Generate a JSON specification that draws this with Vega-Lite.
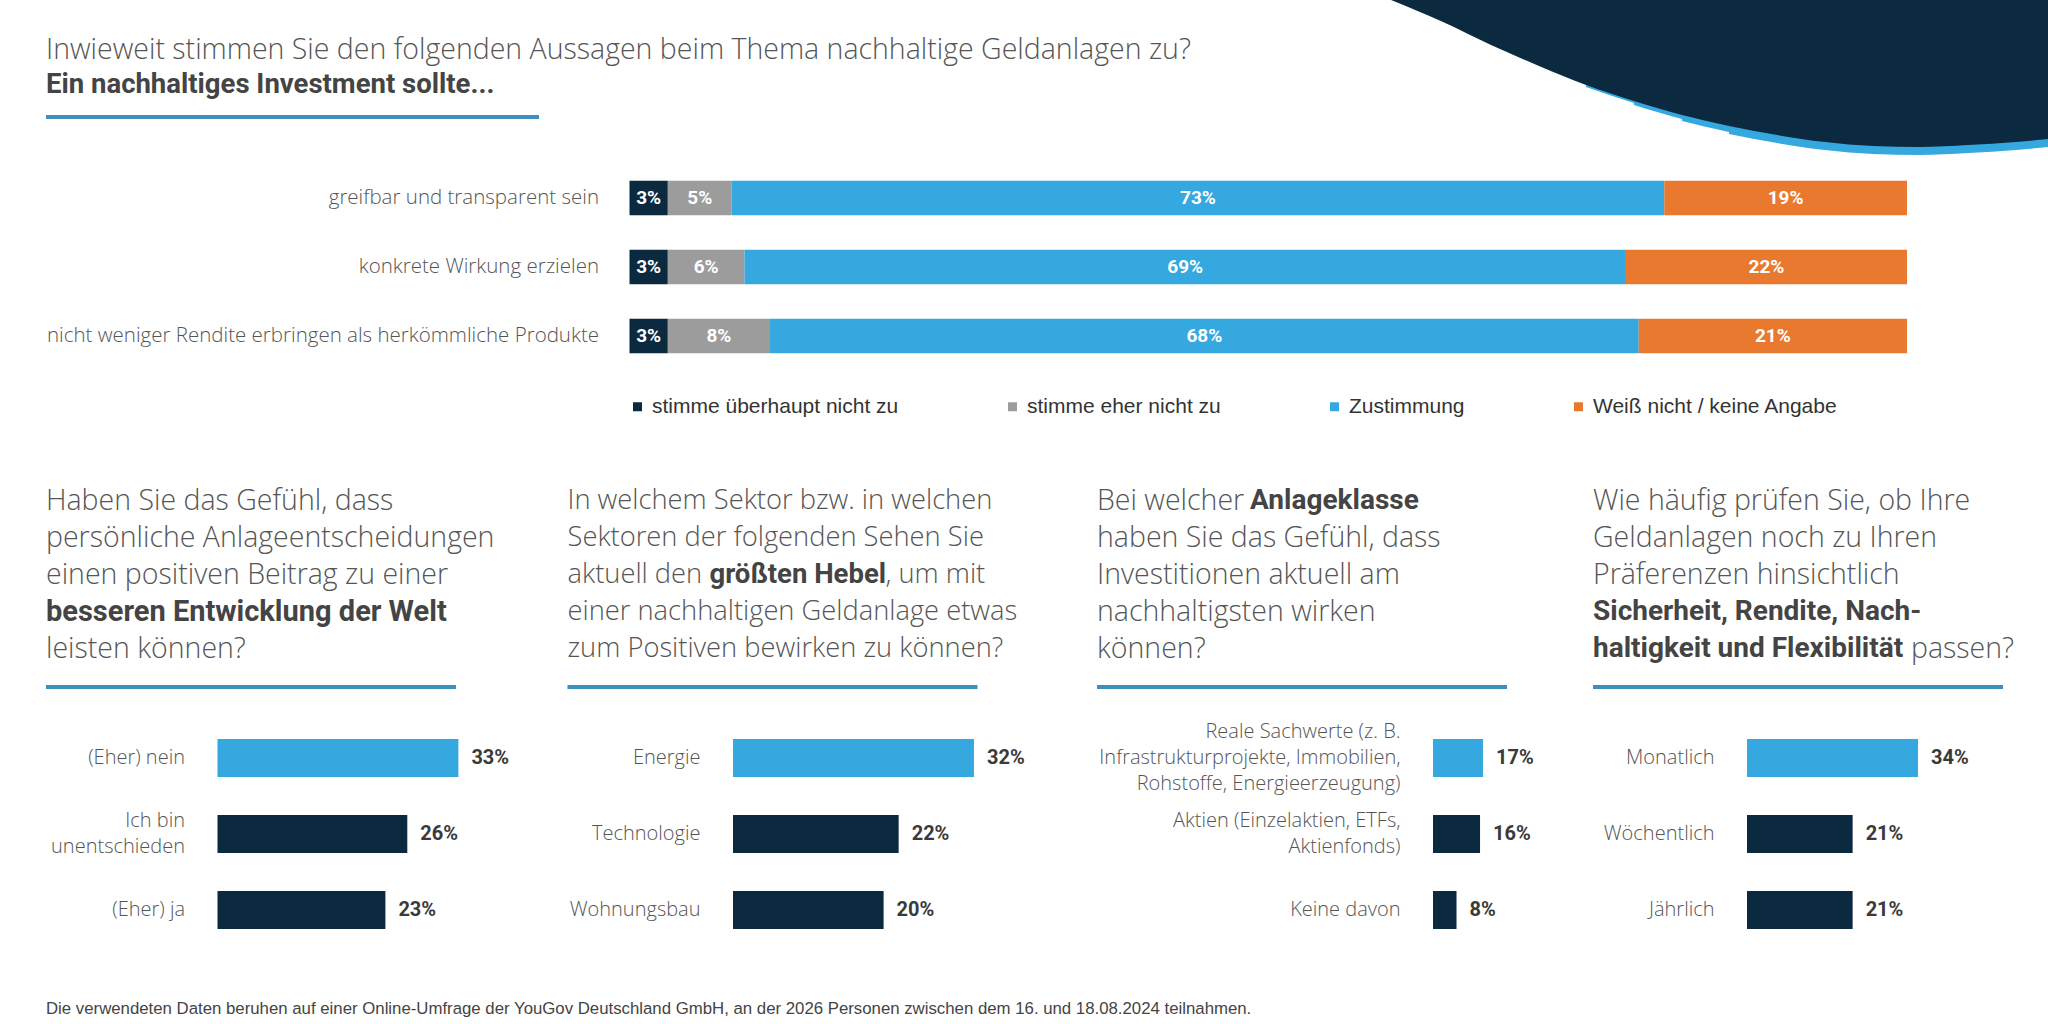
{
  "$schema": "https://vega.github.io/schema/vega-lite/v6.json",
  "width": 2048,
  "height": 1024,
  "autosize": "none",
  "padding": 0,
  "background": "white",
  "config": {"view": {"stroke": null}, "axis": {"grid": false}},
  "datasets": {
    "swoosh": [
      {"sx": 1391, "sy": 0}, {"sx": 1443, "sy": 22}, {"sx": 1491, "sy": 45}, {"sx": 1539, "sy": 66},
      {"sx": 1586, "sy": 85}, {"sx": 1634, "sy": 101}, {"sx": 1682, "sy": 115}, {"sx": 1729, "sy": 126},
      {"sx": 1777, "sy": 135}, {"sx": 1825, "sy": 142}, {"sx": 1873, "sy": 146}, {"sx": 1920, "sy": 147},
      {"sx": 1968, "sy": 145}, {"sx": 2016, "sy": 142}, {"sx": 2048, "sy": 139}
    ],
    "title": [
      {"line": 1, "text": "Inwieweit stimmen Sie den folgenden Aussagen beim Thema nachhaltige Geldanlagen zu?", "bold": false},
      {"line": 2, "text": "Ein nachhaltiges Investment sollte...", "bold": true}
    ],
    "top": [
      {"item": "greifbar und transparent sein", "cat": "stimme überhaupt nicht zu", "rank": 1, "share": 0.03},
      {"item": "greifbar und transparent sein", "cat": "stimme eher nicht zu", "rank": 2, "share": 0.05},
      {"item": "greifbar und transparent sein", "cat": "Zustimmung", "rank": 3, "share": 0.73},
      {"item": "greifbar und transparent sein", "cat": "Weiß nicht / keine Angabe", "rank": 4, "share": 0.19},
      {"item": "konkrete Wirkung erzielen", "cat": "stimme überhaupt nicht zu", "rank": 1, "share": 0.03},
      {"item": "konkrete Wirkung erzielen", "cat": "stimme eher nicht zu", "rank": 2, "share": 0.06},
      {"item": "konkrete Wirkung erzielen", "cat": "Zustimmung", "rank": 3, "share": 0.69},
      {"item": "konkrete Wirkung erzielen", "cat": "Weiß nicht / keine Angabe", "rank": 4, "share": 0.22},
      {"item": "nicht weniger Rendite erbringen als herkömmliche Produkte", "cat": "stimme überhaupt nicht zu", "rank": 1, "share": 0.03},
      {"item": "nicht weniger Rendite erbringen als herkömmliche Produkte", "cat": "stimme eher nicht zu", "rank": 2, "share": 0.08},
      {"item": "nicht weniger Rendite erbringen als herkömmliche Produkte", "cat": "Zustimmung", "rank": 3, "share": 0.68},
      {"item": "nicht weniger Rendite erbringen als herkömmliche Produkte", "cat": "Weiß nicht / keine Angabe", "rank": 4, "share": 0.21}
    ],
    "headers": [
      {"panel": 1, "line": 1, "seg": 1, "bold": false, "text": "Haben Sie das Gefühl, dass"},
      {"panel": 1, "line": 2, "seg": 1, "bold": false, "text": "persönliche Anlageentscheidungen"},
      {"panel": 1, "line": 3, "seg": 1, "bold": false, "text": "einen positiven Beitrag zu einer"},
      {"panel": 1, "line": 4, "seg": 1, "bold": true, "text": "besseren Entwicklung der Welt"},
      {"panel": 1, "line": 5, "seg": 1, "bold": false, "text": "leisten können?"},
      {"panel": 2, "line": 1, "seg": 1, "bold": false, "text": "In welchem Sektor bzw. in welchen"},
      {"panel": 2, "line": 2, "seg": 1, "bold": false, "text": "Sektoren der folgenden Sehen Sie"},
      {"panel": 2, "line": 3, "seg": 1, "bold": false, "text": "aktuell den"},
      {"panel": 2, "line": 3, "seg": 2, "bold": true, "text": "größten Hebel"},
      {"panel": 2, "line": 3, "seg": 3, "bold": false, "text": ", um mit"},
      {"panel": 2, "line": 4, "seg": 1, "bold": false, "text": "einer nachhaltigen Geldanlage etwas"},
      {"panel": 2, "line": 5, "seg": 1, "bold": false, "text": "zum Positiven bewirken zu können?"},
      {"panel": 3, "line": 1, "seg": 1, "bold": false, "text": "Bei welcher"},
      {"panel": 3, "line": 1, "seg": 2, "bold": true, "text": "Anlageklasse"},
      {"panel": 3, "line": 2, "seg": 1, "bold": false, "text": "haben Sie das Gefühl, dass"},
      {"panel": 3, "line": 3, "seg": 1, "bold": false, "text": "Investitionen aktuell am"},
      {"panel": 3, "line": 4, "seg": 1, "bold": false, "text": "nachhaltigsten wirken"},
      {"panel": 3, "line": 5, "seg": 1, "bold": false, "text": "können?"},
      {"panel": 4, "line": 1, "seg": 1, "bold": false, "text": "Wie häufig prüfen Sie, ob Ihre"},
      {"panel": 4, "line": 2, "seg": 1, "bold": false, "text": "Geldanlagen noch zu Ihren"},
      {"panel": 4, "line": 3, "seg": 1, "bold": false, "text": "Präferenzen hinsichtlich"},
      {"panel": 4, "line": 4, "seg": 1, "bold": true, "text": "Sicherheit, Rendite, Nach-"},
      {"panel": 4, "line": 5, "seg": 1, "bold": true, "text": "haltigkeit und Flexibilität"},
      {"panel": 4, "line": 5, "seg": 2, "bold": false, "text": "passen?"}
    ],
    "panels": [
      {"panel": 1, "cat": "(Eher) nein", "share": 0.33},
      {"panel": 1, "cat": "Ich bin unentschieden", "share": 0.26},
      {"panel": 1, "cat": "(Eher) ja", "share": 0.23},
      {"panel": 2, "cat": "Energie", "share": 0.32},
      {"panel": 2, "cat": "Technologie", "share": 0.22},
      {"panel": 2, "cat": "Wohnungsbau", "share": 0.20},
      {"panel": 3, "cat": "Reale Sachwerte (z. B. Infrastrukturprojekte, Immobilien, Rohstoffe, Energieerzeugung)", "share": 0.17},
      {"panel": 3, "cat": "Aktien (Einzelaktien, ETFs, Aktienfonds)", "share": 0.16},
      {"panel": 3, "cat": "Keine davon", "share": 0.08},
      {"panel": 4, "cat": "Monatlich", "share": 0.34},
      {"panel": 4, "cat": "Wöchentlich", "share": 0.21},
      {"panel": 4, "cat": "Jährlich", "share": 0.21}
    ]
  },
  "resolve": {"scale": {"x": "independent", "y": "independent", "color": "independent"}},
  "layer": [
    {
      "data": {"name": "swoosh"},
      "encoding": {
        "x": {"field": "sx", "type": "quantitative", "scale": {"domain": [0, 2048], "range": [0, 2048]}, "axis": null},
        "y": {"field": "sy", "type": "quantitative", "scale": {"domain": [0, 1024], "range": [0, 1024]}, "axis": null},
        "y2": {"datum": 0}
      },
      "layer": [
        {"transform": [{"filter": "datum.sx >= 1586"}], "mark": {"type": "area", "color": "#35a8e0", "interpolate": "monotone", "yOffset": 2}},
        {"transform": [{"filter": "datum.sx >= 1634"}], "mark": {"type": "area", "color": "#35a8e0", "interpolate": "monotone", "yOffset": 4}},
        {"transform": [{"filter": "datum.sx >= 1682"}], "mark": {"type": "area", "color": "#35a8e0", "interpolate": "monotone", "yOffset": 6}},
        {"transform": [{"filter": "datum.sx >= 1729"}], "mark": {"type": "area", "color": "#35a8e0", "interpolate": "monotone", "yOffset": 8}},
        {"mark": {"type": "area", "color": "#0b2a40", "opacity": 1, "interpolate": "monotone"}}
      ]
    },
    {
      "data": {"name": "title"},
      "encoding": {
        "x": {"datum": 0, "type": "quantitative", "scale": {"domain": [0, 1], "range": [46, 539]}, "axis": null},
        "y": {"field": "line", "type": "ordinal", "scale": {"type": "point", "domain": [1, 2], "range": [50, 85], "padding": 0}, "axis": null}
      },
      "layer": [
        {"transform": [{"filter": "!datum.bold"}], "mark": {"type": "text", "align": "left", "baseline": "middle", "font": "Open Sans", "fontSize": 28.5, "fontWeight": 300, "color": "#555555"}, "encoding": {"text": {"field": "text"}}},
        {"transform": [{"filter": "datum.bold"}], "mark": {"type": "text", "align": "left", "baseline": "middle", "font": "Roboto", "fontSize": 27.5, "fontWeight": "bold", "color": "#444444"}, "encoding": {"text": {"field": "text"}}},
        {"transform": [{"filter": "datum.line == 2"}], "mark": {"type": "rule", "color": "#3e8ec0", "strokeWidth": 4, "yOffset": 32}, "encoding": {"x2": {"datum": 1}}}
      ]
    },
    {
      "data": {"name": "top"},
      "transform": [
        {"stack": "share", "groupby": ["item"], "sort": [{"field": "rank", "order": "ascending"}], "as": ["s0", "s1"]},
        {"calculate": "(datum.s0 + datum.s1) / 2", "as": "mid"}
      ],
      "encoding": {
        "y": {
          "field": "item", "type": "nominal",
          "sort": ["greifbar und transparent sein", "konkrete Wirkung erzielen", "nicht weniger Rendite erbringen als herkömmliche Produkte"],
          "scale": {"type": "band", "range": [163.5, 370.5], "paddingInner": 0.5, "paddingOuter": 0.25},
          "axis": {"orient": "left", "offset": -629.5, "labelPadding": 31, "domain": false, "ticks": false, "tickSize": 0, "title": null, "labelFont": "Open Sans", "labelFontSize": 20.5, "labelFontWeight": 300, "labelColor": "#555555", "labelLimit": 800}
        }
      },
      "layer": [
        {
          "mark": {"type": "bar"},
          "encoding": {
            "x": {"field": "s0", "type": "quantitative", "scale": {"domain": [0, 1], "range": [629.5, 1907]}, "axis": null},
            "x2": {"field": "s1"},
            "color": {
              "field": "cat", "type": "nominal",
              "scale": {"domain": ["stimme überhaupt nicht zu", "stimme eher nicht zu", "Zustimmung", "Weiß nicht / keine Angabe"], "range": ["#0b2a40", "#9c9c9c", "#35a8e0", "#e8792f"]},
              "legend": {"orient": "none", "legendX": 627, "legendY": 396, "direction": "horizontal", "title": null, "symbolType": "square", "symbolSize": 81, "symbolStrokeWidth": 0, "labelFont": "Liberation Sans", "labelFontSize": 21, "labelColor": "#333333", "columnPadding": 103, "labelOffset": 4, "labelLimit": 600}
            }
          }
        },
        {
          "mark": {"type": "text", "baseline": "middle", "align": "center", "font": "Roboto", "fontWeight": "bold", "fontSize": 19, "color": "white"},
          "encoding": {
            "x": {"field": "mid", "type": "quantitative"},
            "text": {"field": "share", "format": ".0%"}
          }
        }
      ]
    },
    {
      "data": {"name": "headers"},
      "transform": [{"filter": "datum.panel == 1"}],
      "encoding": {
        "x": {"datum": 0, "type": "quantitative", "scale": {"domain": [0, 1], "range": [46, 456]}, "axis": null},
        "y": {"field": "line", "type": "ordinal", "scale": {"type": "point", "domain": [1, 2, 3, 4, 5], "range": [501, 649], "padding": 0}, "axis": null}
      },
      "layer": [
        {"transform": [{"filter": "datum.seg == 1 && !datum.bold"}], "mark": {"type": "text", "align": "left", "baseline": "middle", "font": "Open Sans", "fontSize": 28.5, "fontWeight": 300, "color": "#555555"}, "encoding": {"text": {"field": "text"}}},
        {"transform": [{"filter": "datum.seg == 1 && datum.bold"}], "mark": {"type": "text", "align": "left", "baseline": "middle", "font": "Roboto", "fontSize": 29, "fontWeight": "bold", "color": "#444444"}, "encoding": {"text": {"field": "text"}}},
        {"transform": [{"filter": "datum.line == 5 && datum.seg == 1"}], "mark": {"type": "rule", "color": "#3e8ec0", "strokeWidth": 4, "yOffset": 38}, "encoding": {"x2": {"datum": 1}}}
      ]
    },
    {
      "data": {"name": "headers"},
      "transform": [{"filter": "datum.panel == 2"}],
      "encoding": {
        "x": {"datum": 0, "type": "quantitative", "scale": {"domain": [0, 1], "range": [567.5, 977.5]}, "axis": null},
        "y": {"field": "line", "type": "ordinal", "scale": {"type": "point", "domain": [1, 2, 3, 4, 5], "range": [501, 649], "padding": 0}, "axis": null}
      },
      "layer": [
        {"transform": [{"filter": "datum.seg == 1 && !datum.bold"}], "mark": {"type": "text", "align": "left", "baseline": "middle", "font": "Open Sans", "fontSize": 27.3, "fontWeight": 300, "color": "#555555"}, "encoding": {"text": {"field": "text"}}},
        {"transform": [{"filter": "datum.seg == 2"}], "mark": {"type": "text", "align": "left", "baseline": "middle", "font": "Roboto", "fontSize": 27.5, "fontWeight": "bold", "color": "#444444", "dx": 142}, "encoding": {"text": {"field": "text"}}},
        {"transform": [{"filter": "datum.seg == 3"}], "mark": {"type": "text", "align": "left", "baseline": "middle", "font": "Open Sans", "fontSize": 27.3, "fontWeight": 300, "color": "#555555", "dx": 318}, "encoding": {"text": {"field": "text"}}},
        {"transform": [{"filter": "datum.line == 5 && datum.seg == 1"}], "mark": {"type": "rule", "color": "#3e8ec0", "strokeWidth": 4, "yOffset": 38}, "encoding": {"x2": {"datum": 1}}}
      ]
    },
    {
      "data": {"name": "headers"},
      "transform": [{"filter": "datum.panel == 3"}],
      "encoding": {
        "x": {"datum": 0, "type": "quantitative", "scale": {"domain": [0, 1], "range": [1097, 1507]}, "axis": null},
        "y": {"field": "line", "type": "ordinal", "scale": {"type": "point", "domain": [1, 2, 3, 4, 5], "range": [501, 649], "padding": 0}, "axis": null}
      },
      "layer": [
        {"transform": [{"filter": "datum.seg == 1 && !datum.bold"}], "mark": {"type": "text", "align": "left", "baseline": "middle", "font": "Open Sans", "fontSize": 28.5, "fontWeight": 300, "color": "#555555"}, "encoding": {"text": {"field": "text"}}},
        {"transform": [{"filter": "datum.seg == 2"}], "mark": {"type": "text", "align": "left", "baseline": "middle", "font": "Roboto", "fontSize": 28, "fontWeight": "bold", "color": "#444444", "dx": 153}, "encoding": {"text": {"field": "text"}}},
        {"transform": [{"filter": "datum.line == 5 && datum.seg == 1"}], "mark": {"type": "rule", "color": "#3e8ec0", "strokeWidth": 4, "yOffset": 38}, "encoding": {"x2": {"datum": 1}}}
      ]
    },
    {
      "data": {"name": "headers"},
      "transform": [{"filter": "datum.panel == 4"}],
      "encoding": {
        "x": {"datum": 0, "type": "quantitative", "scale": {"domain": [0, 1], "range": [1593, 2003]}, "axis": null},
        "y": {"field": "line", "type": "ordinal", "scale": {"type": "point", "domain": [1, 2, 3, 4, 5], "range": [501, 649], "padding": 0}, "axis": null}
      },
      "layer": [
        {"transform": [{"filter": "datum.seg == 1 && !datum.bold"}], "mark": {"type": "text", "align": "left", "baseline": "middle", "font": "Open Sans", "fontSize": 28.5, "fontWeight": 300, "color": "#555555"}, "encoding": {"text": {"field": "text"}}},
        {"transform": [{"filter": "datum.seg == 1 && datum.bold"}], "mark": {"type": "text", "align": "left", "baseline": "middle", "font": "Roboto", "fontSize": 28, "fontWeight": "bold", "color": "#444444"}, "encoding": {"text": {"field": "text"}}},
        {"transform": [{"filter": "datum.seg == 2"}], "mark": {"type": "text", "align": "left", "baseline": "middle", "font": "Open Sans", "fontSize": 28.5, "fontWeight": 300, "color": "#555555", "dx": 318}, "encoding": {"text": {"field": "text"}}},
        {"transform": [{"filter": "datum.line == 5 && datum.seg == 1"}], "mark": {"type": "rule", "color": "#3e8ec0", "strokeWidth": 4, "yOffset": 38}, "encoding": {"x2": {"datum": 1}}}
      ]
    },
    {
      "data": {"name": "panels"},
      "transform": [{"filter": "datum.panel == 1"}, {"joinaggregate": [{"op": "max", "field": "share", "as": "top"}]}],
      "encoding": {
        "y": {
          "field": "cat", "type": "nominal", "sort": ["(Eher) nein", "Ich bin unentschieden", "(Eher) ja"],
          "scale": {"type": "band", "range": [720, 948], "paddingInner": 0.5, "paddingOuter": 0.25},
          "axis": {"orient": "left", "offset": -217.5, "labelPadding": 33, "domain": false, "ticks": false, "tickSize": 0, "title": null, "labelFont": "Open Sans", "labelFontSize": 20, "labelFontWeight": 300, "labelColor": "#555555", "labelLimit": 600, "labelLineHeight": 26,
            "labelOffset": {"condition": {"test": "datum.value == 'Ich bin unentschieden'", "value": -13}, "value": 0},
            "labelExpr": "datum.label == 'Ich bin unentschieden' ? ['Ich bin', 'unentschieden'] : datum.label"}
        },
        "x": {"field": "share", "type": "quantitative", "scale": {"domain": [0, 1], "range": [217.5, 947.5]}, "axis": null}
      },
      "layer": [
        {"mark": {"type": "bar"}, "encoding": {"color": {"condition": {"test": "datum.share == datum.top", "value": "#35a8e0"}, "value": "#0b2a40"}}},
        {"mark": {"type": "text", "align": "left", "baseline": "middle", "dx": 13, "font": "Roboto", "fontWeight": "bold", "fontSize": 20, "color": "#3a3a3a"}, "encoding": {"text": {"field": "share", "format": ".0%"}}}
      ]
    },
    {
      "data": {"name": "panels"},
      "transform": [{"filter": "datum.panel == 2"}, {"joinaggregate": [{"op": "max", "field": "share", "as": "top"}]}],
      "encoding": {
        "y": {
          "field": "cat", "type": "nominal", "sort": ["Energie", "Technologie", "Wohnungsbau"],
          "scale": {"type": "band", "range": [720, 948], "paddingInner": 0.5, "paddingOuter": 0.25},
          "axis": {"orient": "left", "offset": -733, "labelPadding": 33, "domain": false, "ticks": false, "tickSize": 0, "title": null, "labelFont": "Open Sans", "labelFontSize": 20, "labelFontWeight": 300, "labelColor": "#555555", "labelLimit": 600, "labelLineHeight": 26}
        },
        "x": {"field": "share", "type": "quantitative", "scale": {"domain": [0, 1], "range": [733, 1486]}, "axis": null}
      },
      "layer": [
        {"mark": {"type": "bar"}, "encoding": {"color": {"condition": {"test": "datum.share == datum.top", "value": "#35a8e0"}, "value": "#0b2a40"}}},
        {"mark": {"type": "text", "align": "left", "baseline": "middle", "dx": 13, "font": "Roboto", "fontWeight": "bold", "fontSize": 20, "color": "#3a3a3a"}, "encoding": {"text": {"field": "share", "format": ".0%"}}}
      ]
    },
    {
      "data": {"name": "panels"},
      "transform": [{"filter": "datum.panel == 3"}, {"joinaggregate": [{"op": "max", "field": "share", "as": "top"}]}],
      "encoding": {
        "y": {
          "field": "cat", "type": "nominal",
          "sort": ["Reale Sachwerte (z. B. Infrastrukturprojekte, Immobilien, Rohstoffe, Energieerzeugung)", "Aktien (Einzelaktien, ETFs, Aktienfonds)", "Keine davon"],
          "scale": {"type": "band", "range": [720, 948], "paddingInner": 0.5, "paddingOuter": 0.25},
          "axis": {"orient": "left", "offset": -1433, "labelPadding": 33, "domain": false, "ticks": false, "tickSize": 0, "title": null, "labelFont": "Open Sans", "labelFontSize": 20, "labelFontWeight": 300, "labelColor": "#555555", "labelLimit": 600, "labelLineHeight": 26,
            "labelOffset": {"condition": [
              {"test": "datum.value == 'Reale Sachwerte (z. B. Infrastrukturprojekte, Immobilien, Rohstoffe, Energieerzeugung)'", "value": -26},
              {"test": "datum.value == 'Aktien (Einzelaktien, ETFs, Aktienfonds)'", "value": -13}
            ], "value": 0},
            "labelExpr": "datum.label == 'Reale Sachwerte (z. B. Infrastrukturprojekte, Immobilien, Rohstoffe, Energieerzeugung)' ? ['Reale Sachwerte (z. B.', 'Infrastrukturprojekte, Immobilien,', 'Rohstoffe, Energieerzeugung)'] : datum.label == 'Aktien (Einzelaktien, ETFs, Aktienfonds)' ? ['Aktien (Einzelaktien, ETFs,', 'Aktienfonds)'] : datum.label"}
        },
        "x": {"field": "share", "type": "quantitative", "scale": {"domain": [0, 1], "range": [1433, 1727]}, "axis": null}
      },
      "layer": [
        {"mark": {"type": "bar"}, "encoding": {"color": {"condition": {"test": "datum.share == datum.top", "value": "#35a8e0"}, "value": "#0b2a40"}}},
        {"mark": {"type": "text", "align": "left", "baseline": "middle", "dx": 13, "font": "Roboto", "fontWeight": "bold", "fontSize": 20, "color": "#3a3a3a"}, "encoding": {"text": {"field": "share", "format": ".0%"}}}
      ]
    },
    {
      "data": {"name": "panels"},
      "transform": [{"filter": "datum.panel == 4"}, {"joinaggregate": [{"op": "max", "field": "share", "as": "top"}]}],
      "encoding": {
        "y": {
          "field": "cat", "type": "nominal", "sort": ["Monatlich", "Wöchentlich", "Jährlich"],
          "scale": {"type": "band", "range": [720, 948], "paddingInner": 0.5, "paddingOuter": 0.25},
          "axis": {"orient": "left", "offset": -1747, "labelPadding": 33, "domain": false, "ticks": false, "tickSize": 0, "title": null, "labelFont": "Open Sans", "labelFontSize": 20, "labelFontWeight": 300, "labelColor": "#555555", "labelLimit": 600, "labelLineHeight": 26}
        },
        "x": {"field": "share", "type": "quantitative", "scale": {"domain": [0, 1], "range": [1747, 2250]}, "axis": null}
      },
      "layer": [
        {"mark": {"type": "bar"}, "encoding": {"color": {"condition": {"test": "datum.share == datum.top", "value": "#35a8e0"}, "value": "#0b2a40"}}},
        {"mark": {"type": "text", "align": "left", "baseline": "middle", "dx": 13, "font": "Roboto", "fontWeight": "bold", "fontSize": 20, "color": "#3a3a3a"}, "encoding": {"text": {"field": "share", "format": ".0%"}}}
      ]
    },
    {
      "data": {"values": [{"note": "Die verwendeten Daten beruhen auf einer Online-Umfrage der YouGov Deutschland GmbH, an der 2026 Personen zwischen dem 16. und 18.08.2024 teilnahmen."}]},
      "mark": {"type": "text", "align": "left", "baseline": "middle", "font": "Liberation Sans", "fontSize": 16.8, "color": "#444444"},
      "encoding": {
        "x": {"datum": 0, "type": "quantitative", "scale": {"domain": [0, 1], "range": [46, 2048]}, "axis": null},
        "y": {"datum": 0, "type": "quantitative", "scale": {"domain": [0, 1], "range": [1009, 1024]}, "axis": null},
        "text": {"field": "note"}
      }
    }
  ]
}
